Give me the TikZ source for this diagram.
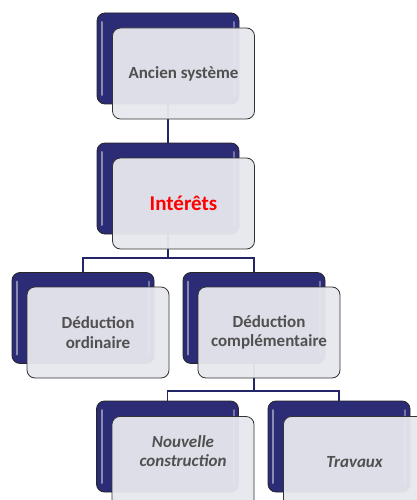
\documentclass[tikz,border=0pt]{standalone}
\usepackage{fontspec}
\setmainfont{Carlito}
\usetikzlibrary{backgrounds,calc}
\definecolor{navybox}{RGB}{44,44,118}
\definecolor{navyline}{RGB}{36,36,104}
\definecolor{frontgray}{RGB}{231,232,238}
\definecolor{txtgray}{RGB}{80,80,80}
\tikzset{
  backbox/.style={draw=black!85,line width=0.8pt,fill=navybox,rounded corners=8pt,
    minimum width=142pt,minimum height=91pt,inner sep=0pt,
    path picture={
      \draw[white,opacity=0.45,line width=2pt,line cap=round]
        ([xshift=5pt,yshift=-9pt]path picture bounding box.north west) --
        ([xshift=5pt,yshift=9pt]path picture bounding box.south west);
      \draw[white,opacity=0.35,line width=2pt,line cap=round]
        ([xshift=-5pt,yshift=-9pt]path picture bounding box.north east) --
        ([xshift=-5pt,yshift=9pt]path picture bounding box.south east);}},
  frontbox/.style={draw=black!80,line width=0.8pt,fill=frontgray,fill opacity=0.95,
    text opacity=1,rounded corners=8pt,minimum width=142pt,minimum height=91pt,
    inner sep=0pt,align=center,text=txtgray,font=\fontsize{17}{19.5}\selectfont\bfseries},
  link/.style={draw=navyline,line width=1.3pt}
}
\begin{document}
\begin{tikzpicture}[x=1pt,y=-1pt]
    \useasboundingbox (0,0) rectangle (417,500);
    % level 1
    \node[backbox] (anc-b) at (168,58.5) {};
    \node[frontbox] (anc) at ([shift={(15.5,15)}]anc-b.center) {Ancien système};
    % level 2
    \node[backbox] (int-b) at (168,188.5) {};
    \node[frontbox,text=red,font=\fontsize{21}{24}\selectfont\bfseries] (int)
      at ([shift={(15.5,15)}]int-b.center) {Intérêts};
    % level 3
    \node[backbox] (ded1-b) at (83,318) {};
    \node[frontbox] (ded1) at ([shift={(15,14.5)}]ded1-b.center) {Déduction\\ordinaire};
    \node[backbox] (ded2-b) at (254,318) {};
    \node[frontbox] (ded2) at ([shift={(15,14.5)}]ded2-b.center) {Déduction\\complémentaire};
    % level 4
    \node[backbox] (nouv-b) at (167.5,446.5) {};
    \node[frontbox] (nouv) at ([shift={(15.5,15.5)}]nouv-b.center) {};
    \node[text=txtgray,font=\fontsize{17}{19.5}\selectfont\bfseries\itshape,align=center]
      (nouv-t) at ([yshift=11]nouv.center) {Nouvelle\\construction};
    \node[backbox] (trav-b) at (339,446.5) {};
    \node[frontbox,font=\fontsize{17}{19.5}\selectfont\bfseries\itshape] (trav)
      at ([shift={(15.5,15.5)}]trav-b.center) {Travaux};
    % connectors
    \begin{scope}[on background layer]
      \coordinate (j1) at (168,258);
      \coordinate (j2) at (254,391);
      \draw[link] (anc-b.south) -- (int-b.north);
      \draw[link] (int-b.south) -- (j1);
      \draw[link] (ded1-b.north) |- (j1) -| (ded2-b.north);
      \draw[link] (ded2-b.south) -- (j2);
      \draw[link] (nouv-b.north) |- (j2) -| (trav-b.north);
    \end{scope}
\end{tikzpicture}
\end{document}
